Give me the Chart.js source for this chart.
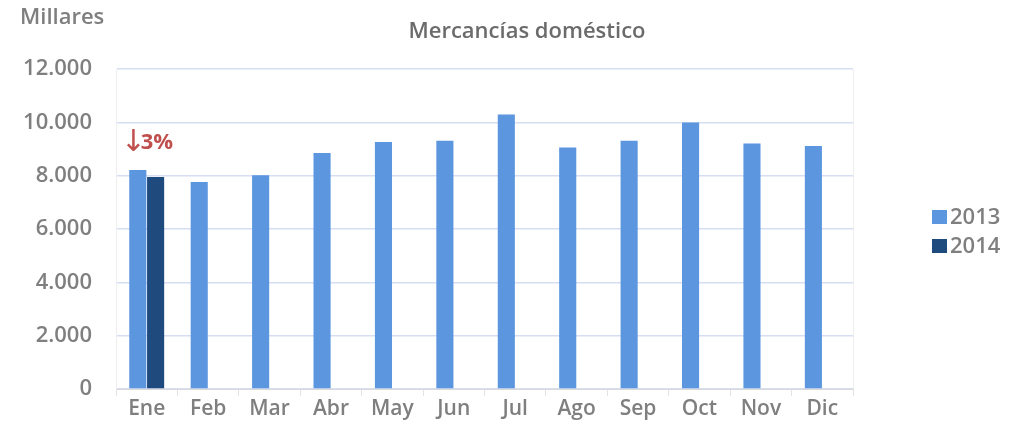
<!DOCTYPE html>
<html>
<head>
<meta charset="utf-8">
<script src="https://cdn.jsdelivr.net/npm/chart.js@4"></script>
<style>
  html, body { margin: 0; padding: 0; background: #fff; }
  #wrap { width: 1034px; height: 439px; }
</style>
</head>
<body>
<div id="wrap"><canvas id="chart" width="1034" height="439"></canvas></div>
<script>
// Mercancías doméstico, millares por mes
const months = ['Ene', 'Feb', 'Mar', 'Abr', 'May', 'Jun', 'Jul', 'Ago', 'Sep', 'Oct', 'Nov', 'Dic'];
const values2013 = [8210, 7760, 8020, 8850, 9260, 9310, 10290, 9060, 9310, 9990, 9210, 9110];
const values2014 = [7950, null, null, null, null, null, null, null, null, null, null, null];
const seriesNames = ['2013', '2014'];
const yTicks = [0, 2000, 4000, 6000, 8000, 10000, 12000];

const chartTitle = 'Mercancías doméstico';
const unitLabel = 'Millares';
const changeArrow = '↓';
const changeLabel = '3%';

const fontFamily = '"Open Sans", "DejaVu Sans", sans-serif';
const gray = '#7f7f7f';

// format numbers with dot as thousands separator
function fmt(v) {
    return v.toString().replace(/\B(?=(\d{3})+(?!\d))/g, '.');
}

// titles, legend and the annotation
const extrasPlugin = {
    id: 'extras',
    afterDraw(chart) {
        const ctx = chart.ctx;
        const area = chart.chartArea;
        ctx.save();

        ctx.fillStyle = gray;
        ctx.font = '600 22px ' + fontFamily;
        ctx.textBaseline = 'middle';
        ctx.textAlign = 'left';
        ctx.fillText(unitLabel, 20, 18);

        ctx.fillStyle = '#6b6b6b';
        ctx.font = '600 22px ' + fontFamily;
        ctx.textAlign = 'center';
        ctx.fillText(chartTitle, 527, 32);

        // faint right border of plot area
        ctx.strokeStyle = '#eeeeee';
        ctx.lineWidth = 1;
        ctx.beginPath();
        ctx.moveTo(area.right + 0.5, area.top);
        ctx.lineTo(area.right + 0.5, area.bottom);
        ctx.stroke();

        // legend
        ctx.font = '600 22px ' + fontFamily;
        ctx.textAlign = 'left';
        chart.data.datasets.forEach((ds, i) => {
            const y = 217 + i * 29;
            ctx.fillStyle = ds.backgroundColor;
            ctx.fillRect(932, y - 7, 15, 14);
            ctx.fillStyle = gray;
            ctx.fillText(ds.label, 950, y + 1);
        });

        // annotation over January
        const xs = chart.scales.x;
        const ys = chart.scales.y;
        const x0 = xs.getPixelForValue(0);
        const top = ys.getPixelForValue(values2013[0]);
        ctx.fillStyle = '#c0504d';
        ctx.textAlign = 'left';
        ctx.font = '30px "DejaVu Sans", sans-serif';
        ctx.fillText(changeArrow, x0 - 26, top - 27);
        ctx.font = 'bold 22px ' + fontFamily;
        ctx.fillText(changeLabel, x0 - 6, top - 27);

        ctx.restore();
    }
};

const ctx = document.getElementById('chart').getContext('2d');
new Chart(ctx, {
    type: 'bar',
    data: {
        labels: months,
        datasets: [
            {
                label: seriesNames[0],
                data: values2013,
                backgroundColor: '#5b96df',
                barPercentage: 0.96,
                categoryPercentage: 0.58
            },
            {
                label: seriesNames[1],
                data: values2014,
                backgroundColor: '#1f4a7d',
                barPercentage: 0.96,
                categoryPercentage: 0.58
            }
        ]
    },
    options: {
        responsive: false,
        animation: false,
        layout: {
            padding: { top: 69, right: 181, bottom: 0, left: 0 }
        },
        plugins: {
            legend: { display: false },
            tooltip: { enabled: false }
        },
        scales: {
            x: {
                grid: {
                    offset: true,
                    drawOnChartArea: false,
                    drawTicks: true,
                    tickLength: 7,
                    color: '#e3e3e3'
                },
                border: { color: '#d9d9d9' },
                ticks: {
                    color: gray,
                    font: { family: fontFamily, size: 21, weight: '600' },
                    padding: 0,
                    maxRotation: 0
                },
                afterFit(scale) { scale.height = 50; }
            },
            y: {
                min: 0,
                max: 12000,
                afterBuildTicks(scale) {
                    scale.ticks = yTicks.map(v => ({ value: v }));
                },
                grid: {
                    color: '#d6def3',
                    lineWidth: 1.5,
                    drawTicks: false
                },
                border: { color: '#eeeeee' },
                ticks: {
                    color: gray,
                    font: { family: fontFamily, size: 22, weight: '600' },
                    padding: 24,
                    callback: v => fmt(v)
                },
                afterFit(scale) { scale.width = 116; }
            }
        }
    },
    plugins: [extrasPlugin]
});
</script>
</body>
</html>
